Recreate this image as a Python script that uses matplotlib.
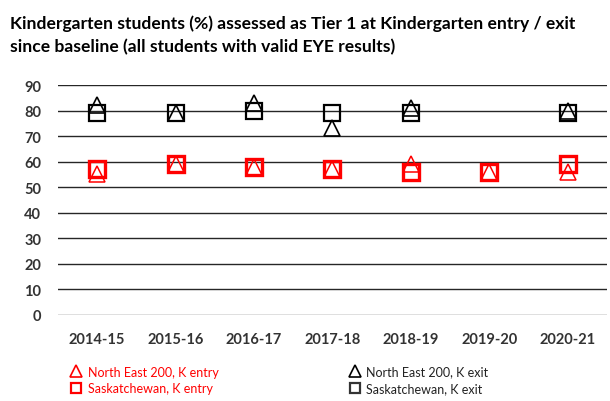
import numpy as np
import matplotlib
matplotlib.use("Agg")
import matplotlib.pyplot as plt
from matplotlib.lines import Line2D

plt.rcParams['font.family'] = ['Lato', 'DejaVu Sans']

# ---- data ----
years = ["2014-15", "2015-16", "2016-17", "2017-18", "2018-19", "2019-20", "2020-21"]
ne_entry = [55, 59, 58, 57, 59, 56, 56]
sk_entry = [57, 59, 58, 57, 56, 56, 59]
ne_exit = [82, 79, 83, 73, 81, np.nan, 80]
sk_exit = [79, 79, 80, 79, 79, np.nan, 79]
yticks = list(range(0, 100, 10))

fig = plt.figure(figsize=(6.1, 4.02), dpi=100)
ax = fig.add_axes([0.095, 0.214, 0.9, 0.572])

x = np.arange(len(years))

# grid lines
for v in yticks[1:]:
    ax.axhline(v, color='#262626', lw=1.0, zorder=1)
ax.axhline(0, color='#d9d9d9', lw=1.2, zorder=1)

ax.plot(x, ne_entry, ls='none', marker='^', ms=12, mfc='none', mec='red', mew=1.1, zorder=3)
ax.plot(x, sk_entry, ls='none', marker='s', ms=11, mfc='none', mec='red', mew=2.4, zorder=3)
ax.plot(x, ne_exit, ls='none', marker='^', ms=12, mfc='none', mec='black', mew=1.2, zorder=3)
ax.plot(x, sk_exit, ls='none', marker='s', ms=11, mfc='none', mec='black', mew=1.6, zorder=3)

ax.set_xlim(-0.5, len(years) - 0.5)
ax.set_ylim(0, 90)
ax.set_yticks(yticks)
ax.set_xticks(x)
ax.set_xticklabels(years)
for s in ax.spines.values():
    s.set_visible(False)
ax.tick_params(length=0, labelsize=10.5, colors='#333333')
ax.tick_params(axis='x', pad=12)
ax.tick_params(axis='y', pad=12)
for lab in ax.get_xticklabels() + ax.get_yticklabels():
    lab.set_fontweight('bold')

fig.text(0.016, 0.912, "Kindergarten students (%) assessed as Tier 1 at Kindergarten entry / exit\n"
         "since baseline (all students with valid EYE results)",
         fontsize=12.6, fontweight='bold', ha='left', va='center', linespacing=1.5)

# legend
handles = [
    Line2D([], [], ls='none', marker='^', ms=8, mfc='none', mec='red', mew=1.2),
    Line2D([], [], ls='none', marker='s', ms=7, mfc='none', mec='red', mew=1.6),
    Line2D([], [], ls='none', marker='^', ms=8, mfc='none', mec='black', mew=1.2),
    Line2D([], [], ls='none', marker='s', ms=7, mfc='none', mec='#333333', mew=1.6),
]
labels = ["North East 200, K entry", "Saskatchewan, K entry",
          "North East 200, K exit", "Saskatchewan, K exit"]
leg = fig.legend(handles, labels, ncol=2, loc='upper left', bbox_to_anchor=(0.117, 0.088),
                 frameon=False, fontsize=9, handlelength=0.8, handletextpad=0.5,
                 columnspacing=10.5, labelspacing=0.35, borderaxespad=0, borderpad=0,
                 labelcolor=['red', 'red', '#222222', '#222222'])

fig.savefig("out.png", dpi=100)
